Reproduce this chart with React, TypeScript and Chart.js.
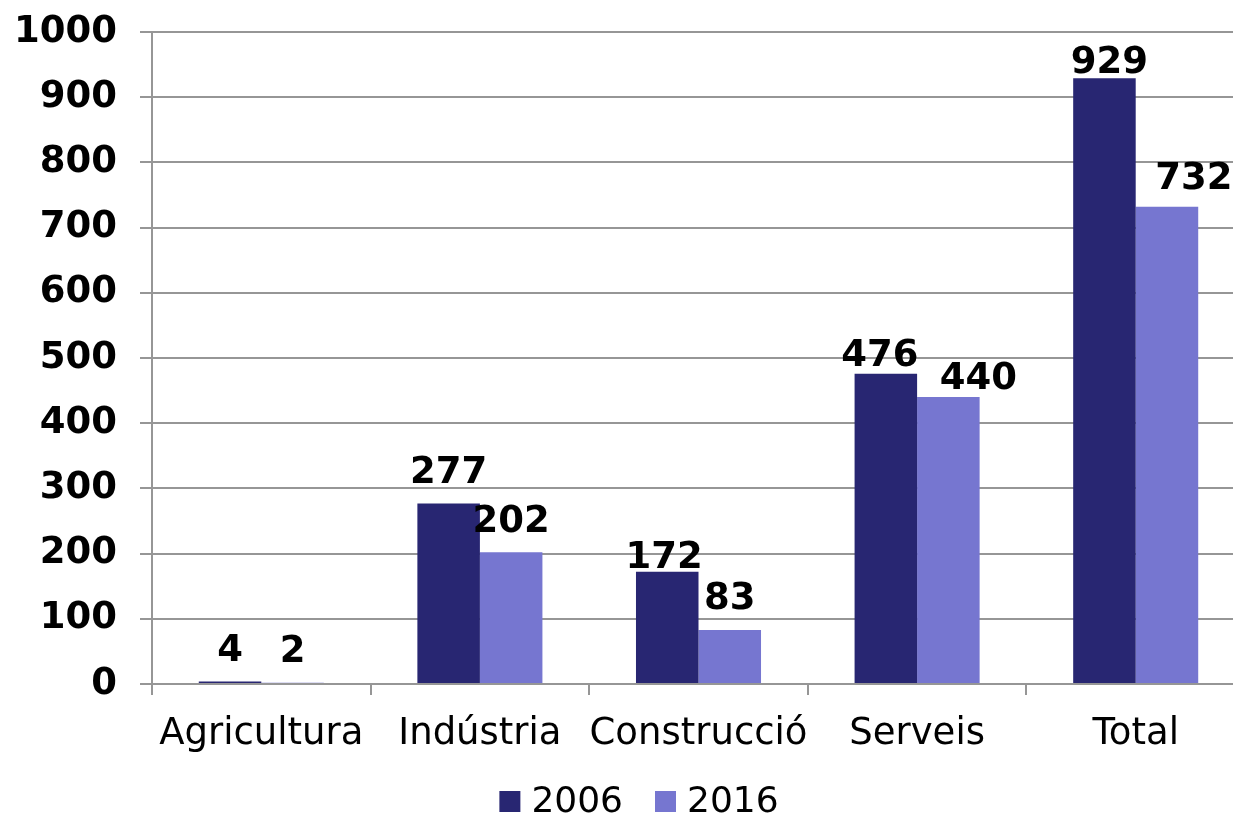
import React, { useEffect, useRef } from "react";
import { Chart, registerables } from "chart.js";

Chart.register(...registerables);

const categories = ["Agricultura", "Indústria", "Construcció", "Serveis", "Total"];
const seriesNames = ["2006", "2016"];
const series2006 = [4, 277, 172, 476, 929];
const series2016 = [2, 202, 83, 440, 732];
const yTicks = [0, 100, 200, 300, 400, 500, 600, 700, 800, 900, 1000];

// label nudges (style only): [dx, gapAboveBar]
const labelNudge2006 = [[0, 20], [0, 20], [-3, 4], [-6, 8], [5, 5]];
const labelNudge2016 = [[0, 21], [0, 20], [0, 21], [30, 8], [27, 18]];

const FONT = "'DejaVu Sans', Verdana, sans-serif";
const GRID = "#969696";
const COLORS = ["#282672", "#7676D0"];

const valueLabels = {
  id: "valueLabels",
  afterDatasetsDraw(chart: any) {
    const ctx = chart.ctx;
    ctx.save();
    ctx.font = `bold 37px ${FONT}`;
    ctx.fillStyle = "#000";
    ctx.textAlign = "center";
    ctx.textBaseline = "alphabetic";
    chart.data.datasets.forEach((ds: any, di: number) => {
      const meta = chart.getDatasetMeta(di);
      const nudges = di === 0 ? labelNudge2006 : labelNudge2016;
      meta.data.forEach((bar: any, i: number) => {
        const [dx, gap] = nudges[i];
        ctx.fillText(String(ds.data[i]), bar.x + dx, bar.y - gap);
      });
    });
    ctx.restore();
  },
};

const bottomLegend = {
  id: "bottomLegend",
  afterDraw(chart: any) {
    const ctx = chart.ctx;
    ctx.save();
    ctx.font = `36px ${FONT}`;
    ctx.textBaseline = "middle";
    ctx.textAlign = "left";
    const box = 21;
    const gapText = 11;
    const gapItem = 32;
    const items = chart.data.datasets.map((ds: any, i: number) => ({
      text: ds.label,
      color: COLORS[i],
      w: ctx.measureText(ds.label).width,
    }));
    const total =
      items.reduce((s: number, it: any) => s + box + gapText + it.w, 0) + gapItem * (items.length - 1);
    const cx = 639;
    const cy = 801.5;
    let x = cx - total / 2;
    items.forEach((it: any) => {
      ctx.fillStyle = it.color;
      ctx.fillRect(x, cy - box / 2, box, box);
      x += box + gapText;
      ctx.fillStyle = "#000";
      ctx.fillText(it.text, x, cy + 1);
      x += it.w + gapItem;
    });
    ctx.restore();
  },
};

export default function App() {
  const ref = useRef<HTMLCanvasElement | null>(null);
  useEffect(() => {
    if (!ref.current) return;
    const chart = new Chart(ref.current, {
      type: "bar",
      data: {
        labels: categories,
        datasets: [
          { label: seriesNames[0], data: series2006, backgroundColor: COLORS[0], borderWidth: 0 },
          { label: seriesNames[1], data: series2016, backgroundColor: COLORS[1], borderWidth: 0 },
        ],
      },
      options: {
        animation: false,
        responsive: false,
        devicePixelRatio: 1,
        layout: { padding: { top: 32, left: 0, right: 0, bottom: 58 } },
        datasets: { bar: { categoryPercentage: 0.572, barPercentage: 1 } },
        scales: {
          x: {
            offset: true,
            grid: {
              offset: true,
              drawOnChartArea: false,
              drawTicks: true,
              tickLength: 11,
              color: GRID,
              lineWidth: 2,
            },
            border: { display: true, color: GRID, width: 2 },
            ticks: {
              color: "#000",
              font: { family: FONT, size: 37 },
              padding: 17,
              maxRotation: 0,
              autoSkip: false,
            },
            afterFit: (s: any) => {
              s.height = 74;
              s.paddingLeft = 0;
              s.paddingRight = 0;
            },
          },
          y: {
            min: 0,
            max: 1000,
            afterBuildTicks: (s: any) => {
              s.ticks = yTicks.map((v) => ({ value: v }));
            },
            grid: { color: GRID, lineWidth: 2, tickLength: 12 },
            border: { display: true, color: GRID, width: 2 },
            ticks: {
              color: "#000",
              font: { family: FONT, size: 37, weight: "bold" },
              padding: 23,
              callback: (v: any) => String(v),
            },
            afterFit: (s: any) => {
              s.width = 152;
              s.paddingTop = 0;
              s.paddingBottom = 0;
            },
          },
        },
        plugins: {
          legend: { display: false },
          tooltip: { enabled: false },
        },
      },
      plugins: [valueLabels, bottomLegend],
    });
    return () => chart.destroy();
  }, []);
  return (
    <div
      style={{
        position: "fixed",
        left: 0,
        top: 0,
        width: 1233,
        height: 816,
        overflow: "hidden",
        background: "#fff",
      }}
    >
      <canvas ref={ref} width={1245} height={816} style={{ width: 1245, height: 816, display: "block" }} />
    </div>
  );
}
